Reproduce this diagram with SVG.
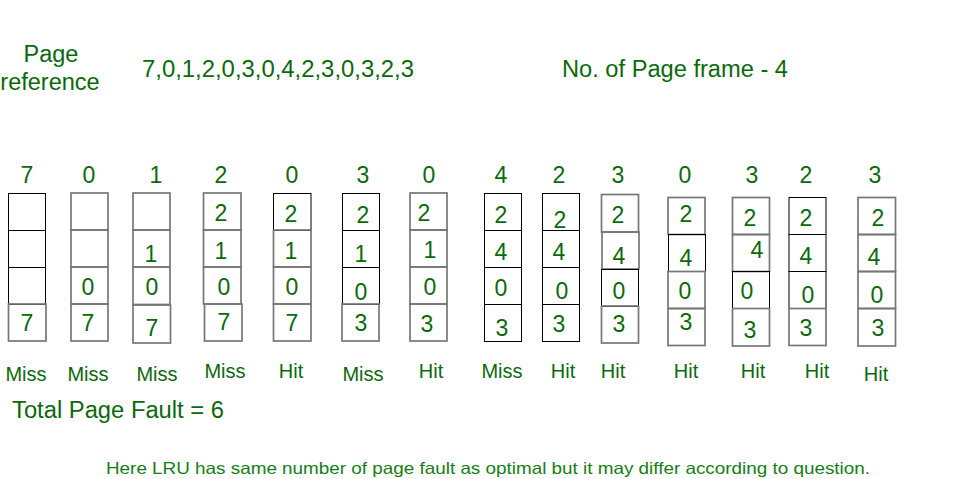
<svg xmlns="http://www.w3.org/2000/svg" width="977" height="479" viewBox="0 0 977 479">
<style>
text{font-family:"Liberation Sans",Arial,sans-serif;fill:#0a6a0a}
.h{font-size:23.5px}
.d{font-size:23px;text-anchor:middle}
.l{font-size:20px;text-anchor:middle}
.f{font-size:16.5px}
rect{fill:none;stroke:#000;stroke-width:1}
rect.g{stroke:#777;stroke-width:1.7}
</style>
<rect x="0" y="0" width="977" height="479" style="fill:#fff;stroke:none"/>
<g id="header">
<text class="h" x="51" y="62" text-anchor="middle">Page</text>
<text class="h" x="50" y="90" text-anchor="middle">reference</text>
<text class="h" x="142" y="77" textLength="272" lengthAdjust="spacingAndGlyphs">7,0,1,2,0,3,0,4,2,3,0,3,2,3</text>
<text class="h" x="562" y="77" textLength="226" lengthAdjust="spacingAndGlyphs">No. of Page frame - 4</text>
</g>
<g id="col1">
<text class="d" x="27" y="183">7</text>
<rect x="8.5" y="193.5" width="37" height="37"/><rect x="8.5" y="230.5" width="37" height="37"/><rect x="8.5" y="267.5" width="37" height="37"/><rect class="g" x="8.5" y="304" width="37.5" height="37"/>
<text class="d" x="27" y="331">7</text>
<text class="l" x="26" y="381">Miss</text>
</g>
<g id="col2">
<text class="d" x="89" y="183">0</text>
<rect class="g" x="71" y="193" width="37" height="37"/><rect class="g" x="71" y="230" width="37" height="37"/><rect class="g" x="71" y="267" width="37" height="37"/><rect class="g" x="71" y="304" width="37" height="37"/>
<text class="d" x="88" y="295">0</text>
<text class="d" x="88" y="331">7</text>
<text class="l" x="88" y="381">Miss</text>
</g>
<g id="col3">
<text class="d" x="156" y="183">1</text>
<rect class="g" x="133" y="193" width="37" height="37"/><rect class="g" x="133" y="230" width="37" height="37"/><rect class="g" x="133" y="267" width="37" height="37.5"/><rect class="g" x="133" y="305" width="37.5" height="38"/>
<text class="d" x="151" y="262">1</text>
<text class="d" x="152" y="295">0</text>
<text class="d" x="152" y="336">7</text>
<text class="l" x="157" y="381">Miss</text>
</g>
<g id="col4">
<text class="d" x="221" y="183">2</text>
<rect class="g" x="203.5" y="193" width="37.5" height="37"/><rect class="g" x="203.5" y="230" width="37.5" height="37"/><rect class="g" x="203.5" y="267" width="37.5" height="37"/><rect class="g" x="204.5" y="304" width="37.5" height="37"/>
<text class="d" x="221" y="221">2</text>
<text class="d" x="221" y="259">1</text>
<text class="d" x="224" y="295">0</text>
<text class="d" x="224" y="330">7</text>
<text class="l" x="225" y="378">Miss</text>
</g>
<g id="col5">
<text class="d" x="292" y="183">0</text>
<rect x="273.5" y="193.5" width="37.5" height="37"/><rect class="g" x="273.5" y="230" width="37.5" height="37"/><rect class="g" x="273.5" y="267" width="37.5" height="37"/><rect class="g" x="273.5" y="304" width="37.5" height="37"/>
<text class="d" x="291" y="222">2</text>
<text class="d" x="291" y="259">1</text>
<text class="d" x="292" y="295">0</text>
<text class="d" x="292" y="331">7</text>
<text class="l" x="291" y="378">Hit</text>
</g>
<g id="col6">
<text class="d" x="363" y="183">3</text>
<rect x="342.5" y="193.5" width="37" height="37"/><rect x="342.5" y="230.5" width="37" height="37"/><rect x="342.5" y="267.5" width="37" height="37"/><rect class="g" x="342" y="304" width="37" height="37"/>
<text class="d" x="363" y="223">2</text>
<text class="d" x="361" y="262">1</text>
<text class="d" x="361" y="300">0</text>
<text class="d" x="361" y="331">3</text>
<text class="l" x="363" y="381">Miss</text>
</g>
<g id="col7">
<text class="d" x="429" y="183">0</text>
<rect class="g" x="410" y="193" width="37" height="37"/><rect class="g" x="410" y="230" width="37" height="37"/><rect class="g" x="410" y="267" width="37" height="37"/><rect class="g" x="410" y="304" width="37" height="37"/>
<text class="d" x="424" y="221">2</text>
<text class="d" x="430" y="258">1</text>
<text class="d" x="430" y="295">0</text>
<text class="d" x="427" y="332">3</text>
<text class="l" x="431" y="378">Hit</text>
</g>
<g id="col8">
<text class="d" x="501" y="183">4</text>
<rect x="484.5" y="193.5" width="37" height="37"/><rect x="484.5" y="230.5" width="37" height="37"/><rect x="484.5" y="267.5" width="37" height="37"/><rect x="484.5" y="304.5" width="37" height="37"/>
<text class="d" x="501" y="223">2</text>
<text class="d" x="501" y="260">4</text>
<text class="d" x="501" y="296">0</text>
<text class="d" x="502" y="336">3</text>
<text class="l" x="502" y="378">Miss</text>
</g>
<g id="col9">
<text class="d" x="559" y="183">2</text>
<rect x="542.5" y="193.5" width="37" height="37"/><rect x="542.5" y="230.5" width="37" height="37"/><rect x="542.5" y="267.5" width="37" height="37"/><rect x="542.5" y="304.5" width="37" height="37"/>
<text class="d" x="560" y="228">2</text>
<text class="d" x="559" y="260">4</text>
<text class="d" x="562" y="299">0</text>
<text class="d" x="559" y="332">3</text>
<text class="l" x="563" y="378">Hit</text>
</g>
<g id="col10">
<text class="d" x="618" y="183">3</text>
<rect class="g" x="601.5" y="194.5" width="37" height="37.5"/><rect class="g" x="602" y="232" width="37" height="37"/><rect x="601.5" y="269.5" width="37" height="37"/><rect class="g" x="601.5" y="306" width="37" height="37"/>
<text class="d" x="618" y="223">2</text>
<text class="d" x="619" y="264">4</text>
<text class="d" x="619" y="299">0</text>
<text class="d" x="619" y="332">3</text>
<text class="l" x="613" y="378">Hit</text>
</g>
<g id="col11">
<text class="d" x="685" y="183">0</text>
<rect class="g" x="668" y="197.5" width="37" height="37"/><rect x="668.5" y="234.5" width="37" height="37"/><rect class="g" x="668" y="271.5" width="37" height="37"/><rect class="g" x="668" y="308.5" width="37" height="37"/>
<text class="d" x="686" y="222">2</text>
<text class="d" x="686" y="266">4</text>
<text class="d" x="685" y="299">0</text>
<text class="d" x="686" y="330">3</text>
<text class="l" x="686" y="378">Hit</text>
</g>
<g id="col12">
<text class="d" x="752" y="183">3</text>
<rect class="g" x="732.5" y="197.5" width="37" height="37"/><rect class="g" x="732.5" y="234.5" width="37" height="37"/><rect x="732.5" y="271.5" width="37" height="37"/><rect class="g" x="732.5" y="308.5" width="37" height="37.5"/>
<text class="d" x="750" y="226">2</text>
<text class="d" x="757" y="258">4</text>
<text class="d" x="747" y="299">0</text>
<text class="d" x="750" y="338">3</text>
<text class="l" x="753" y="378">Hit</text>
</g>
<g id="col13">
<text class="d" x="806" y="183">2</text>
<rect x="789" y="197.5" width="37" height="37"/><rect x="789" y="234.5" width="37" height="37"/><rect x="789" y="271.5" width="37" height="37"/><rect class="g" x="789" y="308.5" width="37" height="37"/>
<text class="d" x="806" y="226">2</text>
<text class="d" x="806" y="264">4</text>
<text class="d" x="808" y="303">0</text>
<text class="d" x="806" y="336">3</text>
<text class="l" x="817" y="378">Hit</text>
</g>
<g id="col14">
<text class="d" x="875" y="183">3</text>
<rect class="g" x="858" y="197.5" width="37.5" height="37"/><rect class="g" x="858" y="234.5" width="37.5" height="37"/><rect class="g" x="858" y="271.5" width="37.5" height="37"/><rect class="g" x="858" y="308.5" width="37.5" height="37.5"/>
<text class="d" x="878" y="226">2</text>
<text class="d" x="874" y="265">4</text>
<text class="d" x="877" y="303">0</text>
<text class="d" x="878" y="336">3</text>
<text class="l" x="876" y="381">Hit</text>
</g>
<g id="footer">
<text class="h" x="12" y="418" textLength="212" lengthAdjust="spacingAndGlyphs">Total Page Fault = 6</text>
<text class="f" x="106" y="474" textLength="764" lengthAdjust="spacingAndGlyphs" style="fill:#148014">Here LRU has same number of page fault as optimal but it may differ according to question.</text>
</g>
<g id="connectors"/>
</svg>
